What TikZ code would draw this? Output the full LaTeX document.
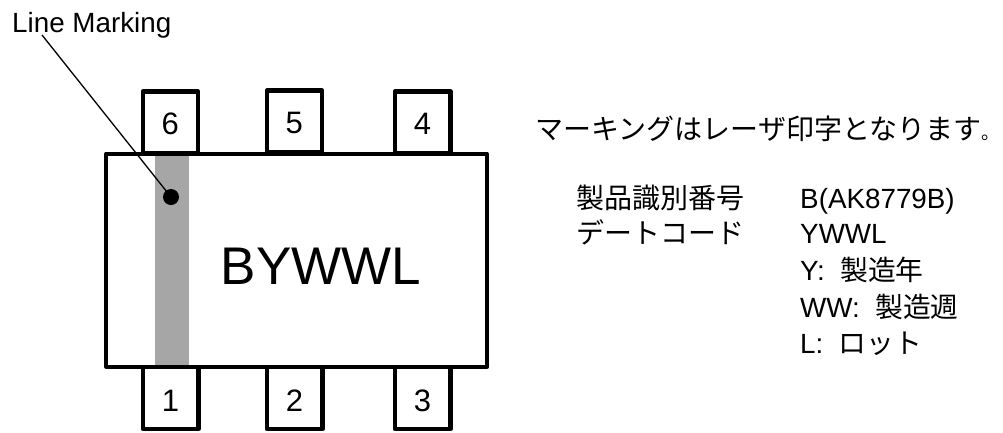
\documentclass[tikz,border=0pt]{standalone}
\usepackage{fontspec}
\setmainfont{Liberation Sans}
\newfontfamily\jp{Noto Sans CJK JP}
\newcommand{\tsz}{\fontsize{27.8}{33}\selectfont}
\tikzset{
  x=1pt,y=-1pt,
  outline/.style={draw=black,line width=4.3pt,line join=round,fill=white,rectangle,inner sep=0pt,outer sep=0pt},
  pin/.style={outline,minimum width=55.5pt,minimum height=62pt,anchor=north west},
  pinnum/.style={font=\fontsize{31}{33}\selectfont,anchor=base,inner sep=0pt},
  txt/.style={inner sep=0pt,anchor=base west,font=\tsz},
  jptxt/.style={inner sep=0pt,anchor=base west,font=\fontsize{28}{33}\selectfont\jp},
}
\begin{document}
\begin{tikzpicture}
\useasboundingbox (0,0) rectangle (1003,432);
\node[pin] (p6) at (142.7,91.5) {};
\node[pin] (p5) at (266.7,90.5) {};
\node[pin] (p4) at (395,91.5) {};
\node[pin] (p1) at (143,367) {};
\node[pin] (p2) at (267,367) {};
\node[pin] (p3) at (395,367) {};
\node[outline,minimum width=380.5pt,minimum height=213pt,anchor=north west] (body) at (106.3,153.7) {};
\node[fill=black!35,inner sep=0pt,outer sep=0pt,minimum width=34pt,minimum height=209pt,anchor=north west] (bar) at (155,155.7) {};
\draw[line width=4.3pt,line join=round] (body.north west) -- (body.north east) (body.south west) -- (body.south east);
\node[pinnum] (n6) at (170.3,134) {6};
\node[pinnum] (n5) at (294.3,133) {5};
\node[pinnum] (n4) at (422.5,134) {4};
\node[pinnum] (n1) at (170.5,411) {1};
\node[pinnum] (n2) at (294.5,411) {2};
\node[pinnum] (n3) at (422.5,411) {3};
\node[font=\fontsize{53}{56}\selectfont,anchor=base west,inner sep=0pt] (code) at (220.5,284) {BYWWL};
\node[txt] (lm) at (12,32) {Line Marking};
\node[circle,fill=black,inner sep=0pt,minimum size=16pt] (dot) at (171,197) {};
\coordinate (lead) at (42,35);
\draw[line width=1.3pt] (lead) -- (dot.center);
\node[jptxt] (t0) at (535.5,139) {マーキングはレーザ印字となります{\fontsize{18.5}{33}\selectfont 。}};
\node[jptxt] (t1) at (576,208) {製品識別番号};
\node[jptxt] (t2) at (576,243) {デートコード};
\node[txt] (r1) at (800,208) {B(AK8779B)};
\node[txt] (r2) at (800,243) {YWWL};
\node[txt] (r3) at (800,280) {Y:\ \ {\jp 製造年}};
\node[txt] (r4) at (800,317) {WW:\ \ {\jp 製造週}};
\node[txt] (r5) at (800,353) {L:\ \ {\jp ロット}};
\end{tikzpicture}
\end{document}
